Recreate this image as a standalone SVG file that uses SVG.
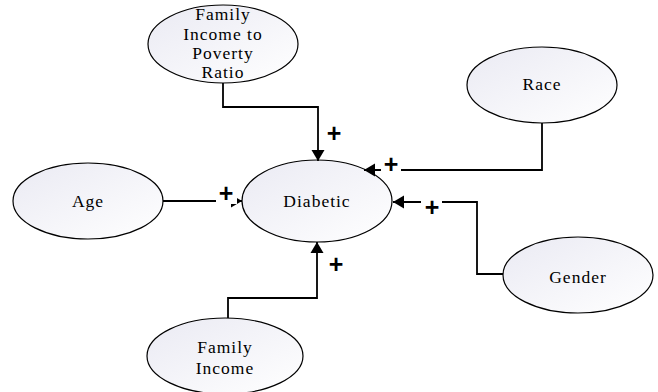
<svg xmlns="http://www.w3.org/2000/svg" width="658" height="392" viewBox="0 0 658 392">
  <style>
    .node ellipse { fill: url(#nodeFill); stroke: #000; stroke-width: 1.2; }
    .node text { font-family: 'Liberation Serif', 'DejaVu Serif', serif; font-size: 17.5px; letter-spacing: 1px; text-anchor: middle; fill: #000; }
    .edge { fill: none; stroke: #000; stroke-width: 1.8; }
    .sign rect { fill: #fff; }
    .sign text { font-family: 'Liberation Sans', 'DejaVu Sans', sans-serif; font-weight: bold; font-size: 25px; text-anchor: middle; fill: #000; }
  </style>
  <defs>
    <linearGradient id="nodeFill" x1="0" y1="0" x2="1" y2="1">
      <stop offset="0" stop-color="#eaeaf3"/>
      <stop offset="1" stop-color="#ffffff"/>
    </linearGradient>
    <marker id="arrow" markerUnits="userSpaceOnUse" markerWidth="12" markerHeight="14" refX="11" refY="7" orient="auto">
      <path d="M0,0.5 L11,7 L0,13.5 Z" fill="#000"/>
    </marker>
  </defs>

  <rect width="658" height="392" fill="#fff"/>

  <!-- nodes -->
  <g id="node-poverty" class="node">
    <ellipse cx="223" cy="44" rx="75" ry="39"/>
    <text x="223" y="20">Family</text>
    <text x="223" y="40">Income to</text>
    <text x="223" y="59">Poverty</text>
    <text x="223" y="78">Ratio</text>
  </g>
  <g id="node-age" class="node">
    <ellipse cx="88" cy="201" rx="75" ry="38"/>
    <text x="88" y="207">Age</text>
  </g>
  <g id="node-race" class="node">
    <ellipse cx="542" cy="85" rx="75" ry="38"/>
    <text x="542" y="90">Race</text>
  </g>
  <g id="node-diabetic" class="node">
    <ellipse cx="317" cy="201" rx="75" ry="41"/>
    <text x="317" y="207">Diabetic</text>
  </g>
  <g id="node-gender" class="node">
    <ellipse cx="578" cy="275" rx="75" ry="38"/>
    <text x="578" y="283">Gender</text>
  </g>
  <g id="node-income" class="node">
    <ellipse cx="225" cy="356" rx="78" ry="38"/>
    <text x="225" y="353">Family</text>
    <text x="225" y="374">Income</text>
  </g>

  <!-- connectors -->
  <g id="connectors">
    <path class="edge" d="M223,83 V107 H318 V161" marker-end="url(#arrow)"/>
    <path class="edge" d="M163,201 H242" marker-end="url(#arrow)"/>
    <path class="edge" d="M542,123 V170 H364" marker-end="url(#arrow)"/>
    <path class="edge" d="M503,274 H477 V202 H393" marker-end="url(#arrow)"/>
    <path class="edge" d="M228,318 V298 H317 V242" marker-end="url(#arrow)"/>

    <g class="sign"><rect x="324" y="122" width="21" height="22"/><text x="334" y="142">+</text></g>
    <g class="sign"><rect x="216" y="182" width="21" height="22"/><text x="226" y="202">+</text></g>
    <g class="sign"><rect x="381" y="153" width="20" height="20"/><text x="391" y="173">+</text></g>
    <g class="sign"><rect x="421" y="197" width="21" height="21"/><text x="432" y="216">+</text></g>
    <g class="sign"><rect x="326" y="253" width="21" height="22"/><text x="336" y="273">+</text></g>
  </g>
</svg>
